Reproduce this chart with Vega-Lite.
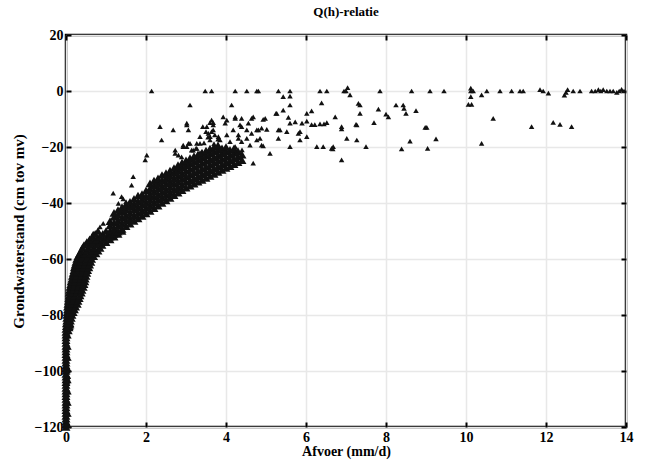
{
  "$schema": "https://vega.github.io/schema/vega-lite/v6.json",
  "width": 560,
  "height": 392,
  "autosize": "none",
  "padding": {"left": 66, "top": 35, "right": 20, "bottom": 37},
  "background": "white",
  "config": {"view": {"stroke": "black", "strokeWidth": 2.5}, "font": "Liberation Serif"},
  "title": {"text": "Q(h)-relatie", "font": "Liberation Serif", "fontSize": 13, "fontWeight": "bold", "offset": 9, "color": "black"},
  "datasets": {
    "band": [
        {"q":0,"h":-120},{"q":0,"h":-118},{"q":0,"h":-116},{"q":0,"h":-114},{"q":0,"h":-112},{"q":0,"h":-110},{"q":0,"h":-108},{"q":0,"h":-106},{"q":0,"h":-104},{"q":0,"h":-102},{"q":0,"h":-100},{"q":0,"h":-98},{"q":0,"h":-96},{"q":0,"h":-94},{"q":0,"h":-92},{"q":0,"h":-90},{"q":0,"h":-88},{"q":0,"h":-86},
        {"q":0,"h":-119},{"q":0,"h":-117},{"q":0,"h":-115},{"q":0,"h":-113},{"q":0,"h":-111},{"q":0,"h":-109},{"q":0,"h":-107},{"q":0,"h":-105},{"q":0,"h":-103},{"q":0,"h":-101},{"q":0,"h":-99},{"q":0,"h":-97},{"q":0,"h":-95},{"q":0,"h":-93},{"q":0,"h":-91},{"q":0,"h":-89},{"q":0,"h":-87},{"q":0,"h":-85},
        {"q":0.03,"h":-119},{"q":0.03,"h":-115},{"q":0.03,"h":-111},{"q":0.03,"h":-107},{"q":0.03,"h":-103},{"q":0.03,"h":-99},{"q":0.03,"h":-95},{"q":0.03,"h":-91},{"q":0.03,"h":-87},
        {"q":0.01,"h":-84},{"q":0.04,"h":-84},{"q":0.08,"h":-84},
        {"q":0.01,"h":-83},{"q":0.05,"h":-83},{"q":0.1,"h":-83},
        {"q":0.02,"h":-82},{"q":0.06,"h":-82},{"q":0.11,"h":-82},
        {"q":0.02,"h":-81},{"q":0.07,"h":-81},{"q":0.13,"h":-81},
        {"q":0.02,"h":-80},{"q":0.08,"h":-80},{"q":0.15,"h":-80},
        {"q":0.03,"h":-79},{"q":0.1,"h":-79},{"q":0.18,"h":-79},
        {"q":0.04,"h":-78},{"q":0.12,"h":-78},{"q":0.21,"h":-78},
        {"q":0.04,"h":-77},{"q":0.14,"h":-77},{"q":0.24,"h":-77},
        {"q":0.05,"h":-76},{"q":0.16,"h":-76},{"q":0.28,"h":-76},
        {"q":0.06,"h":-75},{"q":0.18,"h":-75},{"q":0.3,"h":-75},
        {"q":0.07,"h":-74},{"q":0.2,"h":-74},{"q":0.33,"h":-74},
        {"q":0.08,"h":-73},{"q":0.21,"h":-73},{"q":0.35,"h":-73},
        {"q":0.08,"h":-72},{"q":0.17,"h":-72},{"q":0.27,"h":-72},{"q":0.38,"h":-72},
        {"q":0.09,"h":-71},{"q":0.19,"h":-71},{"q":0.3,"h":-71},{"q":0.4,"h":-71},
        {"q":0.1,"h":-70},{"q":0.21,"h":-70},{"q":0.32,"h":-70},{"q":0.43,"h":-70},
        {"q":0.12,"h":-69},{"q":0.23,"h":-69},{"q":0.34,"h":-69},{"q":0.45,"h":-69},
        {"q":0.13,"h":-68},{"q":0.24,"h":-68},{"q":0.36,"h":-68},{"q":0.47,"h":-68},
        {"q":0.15,"h":-67},{"q":0.26,"h":-67},{"q":0.37,"h":-67},{"q":0.48,"h":-67},
        {"q":0.16,"h":-66},{"q":0.27,"h":-66},{"q":0.39,"h":-66},{"q":0.5,"h":-66},
        {"q":0.18,"h":-65},{"q":0.29,"h":-65},{"q":0.41,"h":-65},{"q":0.52,"h":-65},
        {"q":0.2,"h":-64},{"q":0.31,"h":-64},{"q":0.43,"h":-64},{"q":0.54,"h":-64},
        {"q":0.21,"h":-63},{"q":0.33,"h":-63},{"q":0.45,"h":-63},{"q":0.57,"h":-63},
        {"q":0.23,"h":-62},{"q":0.35,"h":-62},{"q":0.47,"h":-62},{"q":0.59,"h":-62},
        {"q":0.25,"h":-61},{"q":0.37,"h":-61},{"q":0.5,"h":-61},{"q":0.62,"h":-61},
        {"q":0.27,"h":-60},{"q":0.39,"h":-60},{"q":0.52,"h":-60},{"q":0.64,"h":-60},
        {"q":0.3,"h":-59},{"q":0.43,"h":-59},{"q":0.56,"h":-59},{"q":0.69,"h":-59},
        {"q":0.34,"h":-58},{"q":0.47,"h":-58},{"q":0.61,"h":-58},{"q":0.75,"h":-58},
        {"q":0.38,"h":-57},{"q":0.52,"h":-57},{"q":0.66,"h":-57},{"q":0.8,"h":-57},
        {"q":0.41,"h":-56},{"q":0.56,"h":-56},{"q":0.7,"h":-56},{"q":0.85,"h":-56},
        {"q":0.45,"h":-55},{"q":0.6,"h":-55},{"q":0.75,"h":-55},{"q":0.9,"h":-55},
        {"q":0.52,"h":-54},{"q":0.68,"h":-54},{"q":0.84,"h":-54},{"q":1.0,"h":-54},
        {"q":0.59,"h":-53},{"q":0.76,"h":-53},{"q":0.93,"h":-53},{"q":1.1,"h":-53},
        {"q":0.66,"h":-52},{"q":0.84,"h":-52},{"q":1.02,"h":-52},{"q":1.2,"h":-52},
        {"q":0.73,"h":-51},{"q":0.92,"h":-51},{"q":1.11,"h":-51},{"q":1.3,"h":-51},
        {"q":0.8,"h":-50},{"q":1.0,"h":-50},{"q":1.2,"h":-50},{"q":1.4,"h":-50},
        {"q":1.1,"h":-52},{"q":1.1,"h":-50},{"q":1.1,"h":-48},{"q":1.1,"h":-46.5},
        {"q":1.2,"h":-51},{"q":1.2,"h":-49},{"q":1.2,"h":-47},{"q":1.2,"h":-45},{"q":1.2,"h":-43.5},
        {"q":1.3,"h":-50.2},{"q":1.3,"h":-48.2},{"q":1.3,"h":-46.2},{"q":1.3,"h":-44.2},{"q":1.3,"h":-42.5},
        {"q":1.4,"h":-49.2},{"q":1.4,"h":-47.2},{"q":1.4,"h":-45.2},{"q":1.4,"h":-43.2},{"q":1.4,"h":-41.5},
        {"q":1.5,"h":-48.3},{"q":1.5,"h":-46.3},{"q":1.5,"h":-44.3},{"q":1.5,"h":-42.3},{"q":1.5,"h":-40.5},
        {"q":1.6,"h":-47.4},{"q":1.6,"h":-45.4},{"q":1.6,"h":-43.4},{"q":1.6,"h":-41.4},{"q":1.6,"h":-39.6},
        {"q":1.7,"h":-46.4},{"q":1.7,"h":-44.4},{"q":1.7,"h":-42.4},{"q":1.7,"h":-40.4},{"q":1.7,"h":-38.5},
        {"q":1.8,"h":-45.5},{"q":1.8,"h":-43.5},{"q":1.8,"h":-41.5},{"q":1.8,"h":-39.5},{"q":1.8,"h":-37.4},
        {"q":1.9,"h":-44.6},{"q":1.9,"h":-42.6},{"q":1.9,"h":-40.6},{"q":1.9,"h":-38.6},{"q":1.9,"h":-36.8},
        {"q":2.0,"h":-43.7},{"q":2.0,"h":-41.7},{"q":2.0,"h":-39.7},{"q":2.0,"h":-37.7},{"q":2.0,"h":-35.6},
        {"q":2.1,"h":-42.8},{"q":2.1,"h":-40.8},{"q":2.1,"h":-38.8},{"q":2.1,"h":-36.8},{"q":2.1,"h":-34.8},{"q":2.1,"h":-33},
        {"q":2.2,"h":-41.8},{"q":2.2,"h":-39.8},{"q":2.2,"h":-37.8},{"q":2.2,"h":-35.8},{"q":2.2,"h":-33.8},{"q":2.2,"h":-32},
        {"q":2.3,"h":-40.9},{"q":2.3,"h":-38.9},{"q":2.3,"h":-36.9},{"q":2.3,"h":-34.9},{"q":2.3,"h":-32.9},{"q":2.3,"h":-31.2},
        {"q":2.4,"h":-40},{"q":2.4,"h":-38},{"q":2.4,"h":-36},{"q":2.4,"h":-34},{"q":2.4,"h":-32},{"q":2.4,"h":-30},
        {"q":2.5,"h":-39.1},{"q":2.5,"h":-37.1},{"q":2.5,"h":-35.1},{"q":2.5,"h":-33.1},{"q":2.5,"h":-31.1},{"q":2.5,"h":-29.3},
        {"q":2.6,"h":-38.2},{"q":2.6,"h":-36.2},{"q":2.6,"h":-34.2},{"q":2.6,"h":-32.2},{"q":2.6,"h":-30.2},{"q":2.6,"h":-28.4},
        {"q":2.7,"h":-37.2},{"q":2.7,"h":-35.2},{"q":2.7,"h":-33.2},{"q":2.7,"h":-31.2},{"q":2.7,"h":-29.2},{"q":2.7,"h":-27.5},
        {"q":2.8,"h":-36.3},{"q":2.8,"h":-34.3},{"q":2.8,"h":-32.3},{"q":2.8,"h":-30.3},{"q":2.8,"h":-28.3},{"q":2.8,"h":-26.5},
        {"q":2.9,"h":-35.4},{"q":2.9,"h":-33.4},{"q":2.9,"h":-31.4},{"q":2.9,"h":-29.4},{"q":2.9,"h":-27.4},{"q":2.9,"h":-25.6},
        {"q":3.0,"h":-34.5},{"q":3.0,"h":-32.5},{"q":3.0,"h":-30.5},{"q":3.0,"h":-28.5},{"q":3.0,"h":-26.5},{"q":3.0,"h":-24.8},
        {"q":3.1,"h":-33.8},{"q":3.1,"h":-31.8},{"q":3.1,"h":-29.8},{"q":3.1,"h":-27.8},{"q":3.1,"h":-25.8},{"q":3.1,"h":-24},
        {"q":3.2,"h":-33.1},{"q":3.2,"h":-31.1},{"q":3.2,"h":-29.1},{"q":3.2,"h":-27.1},{"q":3.2,"h":-25.1},{"q":3.2,"h":-23.3},
        {"q":3.3,"h":-32.4},{"q":3.3,"h":-30.4},{"q":3.3,"h":-28.4},{"q":3.3,"h":-26.4},{"q":3.3,"h":-24.4},{"q":3.3,"h":-22.6},
        {"q":3.4,"h":-31.7},{"q":3.4,"h":-29.7},{"q":3.4,"h":-27.7},{"q":3.4,"h":-25.7},{"q":3.4,"h":-23.7},{"q":3.4,"h":-22},
        {"q":3.5,"h":-31},{"q":3.5,"h":-29},{"q":3.5,"h":-27},{"q":3.5,"h":-25},{"q":3.5,"h":-23},{"q":3.5,"h":-21.3},
        {"q":3.6,"h":-30.3},{"q":3.6,"h":-28.3},{"q":3.6,"h":-26.3},{"q":3.6,"h":-24.3},{"q":3.6,"h":-22.3},{"q":3.6,"h":-20.6},
        {"q":3.7,"h":-29.6},{"q":3.7,"h":-27.6},{"q":3.7,"h":-25.6},{"q":3.7,"h":-23.6},{"q":3.7,"h":-21.6},{"q":3.7,"h":-20},
        {"q":3.8,"h":-28.9},{"q":3.8,"h":-26.9},{"q":3.8,"h":-24.9},{"q":3.8,"h":-22.9},{"q":3.8,"h":-21},{"q":3.8,"h":-19.4},
        {"q":3.9,"h":-28.2},{"q":3.9,"h":-26.2},{"q":3.9,"h":-24.2},{"q":3.9,"h":-22.2},{"q":3.9,"h":-20.5},
        {"q":4.0,"h":-27.5},{"q":4.0,"h":-25.5},{"q":4.0,"h":-23.5},{"q":4.0,"h":-21.5},{"q":4.0,"h":-20},
        {"q":4.1,"h":-26.8},{"q":4.1,"h":-24.8},{"q":4.1,"h":-22.8},{"q":4.1,"h":-21},
        {"q":4.2,"h":-26.1},{"q":4.2,"h":-24.1},{"q":4.2,"h":-22.1},{"q":4.2,"h":-20.5},
        {"q":4.3,"h":-25.4},{"q":4.3,"h":-23.4},{"q":4.3,"h":-21.5},
        {"q":4.4,"h":-24.7},{"q":4.4,"h":-22.7}
    ],
    "scatter": [
        {"q":0.05,"h":-100},{"q":0.06,"h":-102},{"q":0.04,"h":-104},{"q":0.12,"h":-85},{"q":0.1,"h":-86},{"q":0.14,"h":-84},
        {"q":0.93,"h":-47.3},{"q":1.1,"h":-46.7},{"q":0.85,"h":-48.5},{"q":0.68,"h":-50.8},{"q":0.64,"h":-52},{"q":0.73,"h":-51.4},{"q":0.35,"h":-58},{"q":0.31,"h":-58.6},{"q":0.23,"h":-65.1},
        {"q":1.18,"h":-36.5},{"q":1.39,"h":-37.7},{"q":1.31,"h":-40.1},{"q":1.68,"h":-30.6},{"q":1.64,"h":-33.6},{"q":2.02,"h":-22.9},{"q":1.98,"h":-24.6},{"q":1.43,"h":-38.5},{"q":1.5,"h":-39.5},
        {"q":4.4,"h":-21},{"q":3.45,"h":-18.5},{"q":3.6,"h":-17.5},{"q":3.7,"h":-18.8},{"q":3.55,"h":-16.5},
        {"q":2.35,"h":-12.7},{"q":2.39,"h":-17.5},{"q":2.68,"h":-13.9},{"q":3.02,"h":-11.5},{"q":3.06,"h":-13.9},
        {"q":2.73,"h":-21.1},{"q":2.81,"h":-22.9},{"q":2.89,"h":-23.5},{"q":3.06,"h":-18.7},{"q":3.27,"h":-20.5},{"q":3.35,"h":-18.7},
        {"q":3.52,"h":-12.7},{"q":3.68,"h":-13.9},{"q":3.81,"h":-16.3},{"q":3.85,"h":-17.5},{"q":3.64,"h":-10.4},{"q":3.68,"h":-12.1},
        {"q":3.93,"h":-9.2},{"q":4.02,"h":-10.4},{"q":4.23,"h":-9.8},{"q":4.39,"h":-9.8},{"q":4.64,"h":-9.8},{"q":4.98,"h":-9.8},
        {"q":4.18,"h":-13.9},{"q":4.31,"h":-16.9},{"q":4.39,"h":-12.7},
        {"q":4.52,"h":-13.9},{"q":4.64,"h":-15.1},{"q":4.52,"h":-16.9},{"q":4.6,"h":-19.3},
        {"q":4.77,"h":-13.9},{"q":4.85,"h":-16.9},{"q":4.89,"h":-13.3},{"q":5.02,"h":-13.7},{"q":4.93,"h":-19.6},{"q":4.68,"h":-25.8},{"q":5.1,"h":-22.3},
        {"q":5.31,"h":-13.9},{"q":5.31,"h":-16.9},{"q":5.25,"h":-8},{"q":5.43,"h":-2},{"q":5.43,"h":-6.8},{"q":5.56,"h":-9.4},{"q":5.6,"h":-5},{"q":5.73,"h":-11},{"q":5.81,"h":-15.1},{"q":5.85,"h":-17.5},{"q":5.6,"h":-19.9},
        {"q":5.9,"h":-11.5},{"q":6.02,"h":-10.8},{"q":6.14,"h":-12},{"q":6.22,"h":-12},{"q":6.35,"h":-11.7},{"q":6.45,"h":-11.7},
        {"q":6.02,"h":-8},{"q":6.14,"h":-7.1},{"q":6.39,"h":-4.2},{"q":6.43,"h":-19.9},{"q":6.68,"h":-19.9},{"q":6.73,"h":-9.2},{"q":6.89,"h":-12.7},{"q":6.89,"h":-24.6},
        {"q":7.02,"h":-16.9},{"q":7.27,"h":-17.5},{"q":7.27,"h":-12.1},{"q":7.31,"h":-4.4},{"q":3.1,"h":-5},{"q":4.14,"h":-5},
        {"q":3.6,"h":-11.3},{"q":3.68,"h":-11.3},{"q":3.98,"h":-11.5},{"q":4.23,"h":-9.2},{"q":4.35,"h":-12.1},{"q":4.56,"h":-11.5},{"q":4.68,"h":-9.2},{"q":4.93,"h":-10.1},{"q":5.27,"h":-8},{"q":3.02,"h":-12.1},{"q":3.42,"h":-12.7},{"q":3.5,"h":-14.5},
        {"q":4.31,"h":-15.7},{"q":4.81,"h":-13.9},{"q":4.39,"h":-18.1},{"q":4.77,"h":-17.5},{"q":4.89,"h":-19.3},
        {"q":5.35,"h":-13.9},{"q":5.52,"h":-14.5},{"q":5.6,"h":-11.5},{"q":5.85,"h":-14.5},{"q":6.02,"h":-16.3},{"q":6.27,"h":-19.9},{"q":6.64,"h":-20.5},
        {"q":2.93,"h":-19.3},{"q":3.02,"h":-19.9},{"q":3.1,"h":-18.7},{"q":3.18,"h":-21.1},{"q":3.25,"h":-20.5},{"q":3.35,"h":-22},
        {"q":3.56,"h":-15.1},{"q":3.64,"h":-14.5},{"q":3.72,"h":-15.7},{"q":3.8,"h":-17.2},
        {"q":2.73,"h":-22.3},{"q":2.93,"h":-19.9},{"q":3.14,"h":-21.1},{"q":3.27,"h":-18.7},{"q":3.35,"h":-16.3},{"q":3.6,"h":-16.3},{"q":4.02,"h":-15.7},{"q":4.1,"h":-18.1},{"q":4.23,"h":-19.9},{"q":3.85,"h":-23.5},{"q":4.02,"h":-25.8},{"q":4.27,"h":-22.3},
        {"q":7.1,"h":-1.4},{"q":7.35,"h":-5},{"q":7.81,"h":-6.5},{"q":7.35,"h":-8},{"q":8.0,"h":-8.3},{"q":8.06,"h":-9.2},{"q":8.25,"h":-5},{"q":8.43,"h":-5},{"q":8.45,"h":-6.2},{"q":8.5,"h":-8},{"q":8.75,"h":-7},
        {"q":6.52,"h":-11.3},{"q":6.89,"h":-13.5},{"q":7.25,"h":-11.9},{"q":7.7,"h":-11.3},{"q":7.5,"h":-19.9},{"q":6.67,"h":-20.7},
        {"q":8.98,"h":-13},{"q":9.02,"h":-13},{"q":9.25,"h":-17.1},{"q":8.6,"h":-17.9},{"q":8.39,"h":-20.7},{"q":9.04,"h":-20.5},
        {"q":10.12,"h":-2},{"q":10.06,"h":-4.8},{"q":10.14,"h":-4.8},{"q":10.68,"h":-9.8},{"q":10.39,"h":-18.7},{"q":11.64,"h":-12.7},{"q":12.18,"h":-11.2},{"q":12.35,"h":-11.9},{"q":12.64,"h":-12.7},
        {"q":2.14,"h":0},{"q":3.48,"h":0},{"q":3.64,"h":0},{"q":4.23,"h":0},{"q":4.52,"h":0},{"q":4.77,"h":0},{"q":4.81,"h":0},{"q":5.31,"h":0},{"q":5.6,"h":0},{"q":5.6,"h":-1.8},{"q":6.35,"h":0},{"q":6.52,"h":0},{"q":6.95,"h":0},{"q":7.0,"h":0},{"q":7.04,"h":1.2},
        {"q":7.85,"h":0},{"q":8.64,"h":0},{"q":9.1,"h":0},{"q":9.45,"h":0},{"q":10.12,"h":1},{"q":10.12,"h":0},{"q":10.18,"h":0},{"q":10.39,"h":-1.4},{"q":10.52,"h":0},{"q":10.85,"h":0},{"q":11.14,"h":0},{"q":11.35,"h":0},{"q":11.43,"h":0},
        {"q":11.85,"h":0.5},{"q":11.93,"h":0},{"q":12.06,"h":-0.8},{"q":12.46,"h":-1.5},{"q":12.5,"h":-0.5},{"q":12.54,"h":0.5},{"q":12.68,"h":0},{"q":12.85,"h":0},{"q":13.14,"h":0},{"q":13.23,"h":0},{"q":13.31,"h":0.5},{"q":13.37,"h":0},{"q":13.43,"h":0.5},{"q":13.52,"h":0},{"q":13.6,"h":0},{"q":13.68,"h":0},{"q":13.77,"h":-0.5},{"q":13.83,"h":0},{"q":13.89,"h":0.6},{"q":13.95,"h":0}
    ]
  },
  "layer": [
    {
      "data": {"name": "band"},
      "mark": {"type": "point", "shape": "triangle-up", "filled": true, "color": "#111111", "size": 80, "opacity": 1},
      "encoding": {
        "x": {"field": "q", "type": "quantitative",
          "scale": {"domain": [0, 14], "nice": false, "zero": false},
          "axis": {"orient": "bottom", "values": [0,2,4,6,8,10,12,14], "domain": false, "grid": true, "gridColor": "#e8e8e8", "gridWidth": 1.5,
            "ticks": true, "tickSize": -5, "tickWidth": 2, "tickColor": "black",
            "labelFont": "Liberation Serif", "labelFontSize": 14, "labelFontWeight": "bold", "labelColor": "black", "labelPadding": 8, "labelFlush": false,
            "title": "Afvoer (mm/d)", "titleFont": "Liberation Serif", "titleFontSize": 14, "titleFontWeight": "bold", "titleColor": "black", "titlePadding": 0}},
        "y": {"field": "h", "type": "quantitative",
          "scale": {"domain": [-120, 20], "nice": false, "zero": false},
          "axis": {"orient": "left", "values": [-120,-100,-80,-60,-40,-20,0,20], "domain": false, "grid": true, "gridColor": "#e8e8e8", "gridWidth": 1.5,
            "ticks": true, "tickSize": -5, "tickWidth": 2, "tickColor": "black",
            "labelFont": "Liberation Serif", "labelFontSize": 14, "labelFontWeight": "bold", "labelColor": "black", "labelPadding": 8, "labelFlush": false,
            "title": "Grondwaterstand (cm tov mv)", "titleFont": "Liberation Serif", "titleFontSize": 15, "titleFontWeight": "bold", "titleColor": "black", "titlePadding": 8}}
      }
    },
    {
      "data": {"name": "scatter"},
      "mark": {"type": "point", "shape": "triangle-up", "filled": true, "color": "#111111", "size": 30, "opacity": 1},
      "encoding": {
        "x": {"field": "q", "type": "quantitative", "scale": {"domain": [0, 14], "nice": false, "zero": false}, "axis": null},
        "y": {"field": "h", "type": "quantitative", "scale": {"domain": [-120, 20], "nice": false, "zero": false}, "axis": null}
      }
    },
    {
      "data": {"values": [{"q": 0, "h": -120}]},
      "mark": {"type": "point", "opacity": 0},
      "encoding": {
        "x": {"field": "q", "type": "quantitative",
          "scale": {"domain": [0, 14], "nice": false, "zero": false},
          "axis": {"orient": "top", "values": [0,2,4,6,8,10,12,14], "domain": false, "grid": false, "labels": false, "title": null,
            "ticks": true, "tickSize": -5, "tickWidth": 2, "tickColor": "black"}},
        "y": {"field": "h", "type": "quantitative",
          "scale": {"domain": [-120, 20], "nice": false, "zero": false},
          "axis": {"orient": "right", "values": [-120,-100,-80,-60,-40,-20,0,20], "domain": false, "grid": false, "labels": false, "title": null,
            "ticks": true, "tickSize": -5, "tickWidth": 2, "tickColor": "black"}}
      }
    }
  ],
  "resolve": {"axis": {"x": "independent", "y": "independent"}}
}
